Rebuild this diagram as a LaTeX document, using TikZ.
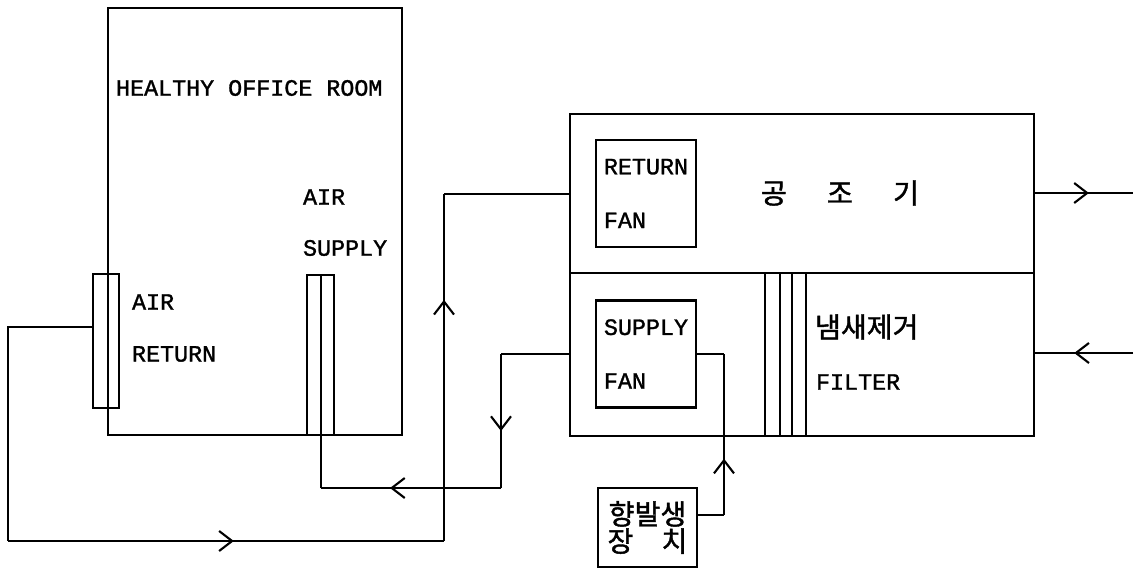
\documentclass[tikz,border=0pt]{standalone}
\usepackage{fontspec}
\setmainfont{Liberation Mono}[FakeBold=1.3]
\newfontfamily\kofont{Noto Sans CJK KR}[FakeBold=1.5]
\usetikzlibrary{arrows.meta, positioning, calc, decorations.markings}

\begin{document}
\begin{tikzpicture}[x=0.02cm, y=-0.02cm, line width=1.2pt,
    lbl/.style={anchor=west, inner sep=0pt, font=\fontsize{13.3}{16}\selectfont},
    kolbl/.style={inner sep=0pt, font=\kofont\fontsize{16}{16}\selectfont},
    plainbox/.style={draw, rectangle, inner sep=0pt, anchor=north west},
    fanbox/.style={draw, rectangle, minimum width=2cm, minimum height=2.14cm, align=left, font=\fontsize{13.3}{30.6}\selectfont},
    duct/.style={line width=1.2pt},
    midarr/.style={postaction={decorate}, decoration={markings, mark=at position #1 with {\arrow{Straight Barb[length=2.6mm, width=4mm]}}}}]

  \useasboundingbox (0,0) rectangle (1140,568);

  % office room and its grilles
  \node[plainbox, minimum width=5.88cm, minimum height=8.54cm] (room) at (107,7) {};
  \node[plainbox, minimum width=0.52cm, minimum height=2.68cm] (retgr) at (92,273) {};
  \node[plainbox, minimum width=0.54cm, minimum height=3.2cm] (supgr) at (306,274) {};
  \draw (supgr.north) -- (supgr.south);

  \node[lbl] (roomname) at (115,88) {HEALTHY OFFICE ROOM};
  \node[lbl] (supname1) at (302,197) {AIR};
  \node[lbl] (supname2) at (302,248) {SUPPLY};
  \node[lbl] (retname1) at (131,302) {AIR};
  \node[lbl] (retname2) at (131,354) {RETURN};

  % air handling unit
  \node[plainbox, minimum width=9.28cm, minimum height=6.44cm] (ahu) at (569,113) {};
  \draw (ahu.west |- 0,273) -- (ahu.east |- 0,273);
  \foreach \x in {765,780,792,806}
    \draw (\x,273) -- ({\x},273 |- ahu.south);

  \node[fanbox] (retfan) at (646,193.5) {RETURN\\FAN};
  \node[fanbox] (supfan) at (646,354) {SUPPLY\\FAN};
  \node[kolbl] (ahuname) at (840,193) {공\hspace{1.43em}조\hspace{1.43em}기};
  \node[kolbl, anchor=west] (odour) at (814,327) {냄새제거};
  \node[lbl] (filter) at (815,382) {FILTER};

  % aroma generator
  \node[draw, rectangle, minimum width=1.98cm, minimum height=1.58cm, align=center,
    font=\kofont\fontsize{16}{14.2}\selectfont] (aroma) at (647.5,527.5) {향발생\\장\hspace{1em}치};

  % return duct
  \coordinate (rbend1) at (8,327);
  \coordinate (rbend2) at (8,541);
  \coordinate (rbend3) at (444,541);
  \coordinate (rbend4) at (444,194);
  \draw[duct] (rbend1 -| retgr.west) -- (rbend1) -- (rbend2);
  \draw[duct, midarr=0.518] (rbend2) -- (rbend3);
  \draw[duct, midarr=0.695] (rbend3) -- (rbend4);
  \draw[duct] (rbend4) -- (rbend4 -| ahu.west);

  % supply duct
  \coordinate (sbend1) at (501,354);
  \coordinate (sbend2) at (501,488);
  \draw[duct] (sbend1 -| ahu.west) -- (sbend1);
  \draw[duct, midarr=0.575] (sbend1) -- (sbend2);
  \draw[duct, midarr=0.615] (sbend2) -- (sbend2 -| supgr.south);
  \draw[duct] (sbend2 -| supgr.south) -- (supgr.south);

  % aroma feed
  \coordinate (abend) at (724,515);
  \draw[duct] (aroma.east |- abend) -- (abend);
  \draw[duct, midarr=0.35] (abend) -- (abend |- supfan.east);
  \draw[duct] (abend |- supfan.east) -- (supfan.east);

  % outside air
  \coordinate (outair) at (1133,193);
  \coordinate (inair) at (1133,353);
  \draw[duct, midarr=0.55] (outair -| ahu.east) -- (outair);
  \draw[duct, midarr=0.6] (inair) -- (inair -| ahu.east);
\end{tikzpicture}
\end{document}
